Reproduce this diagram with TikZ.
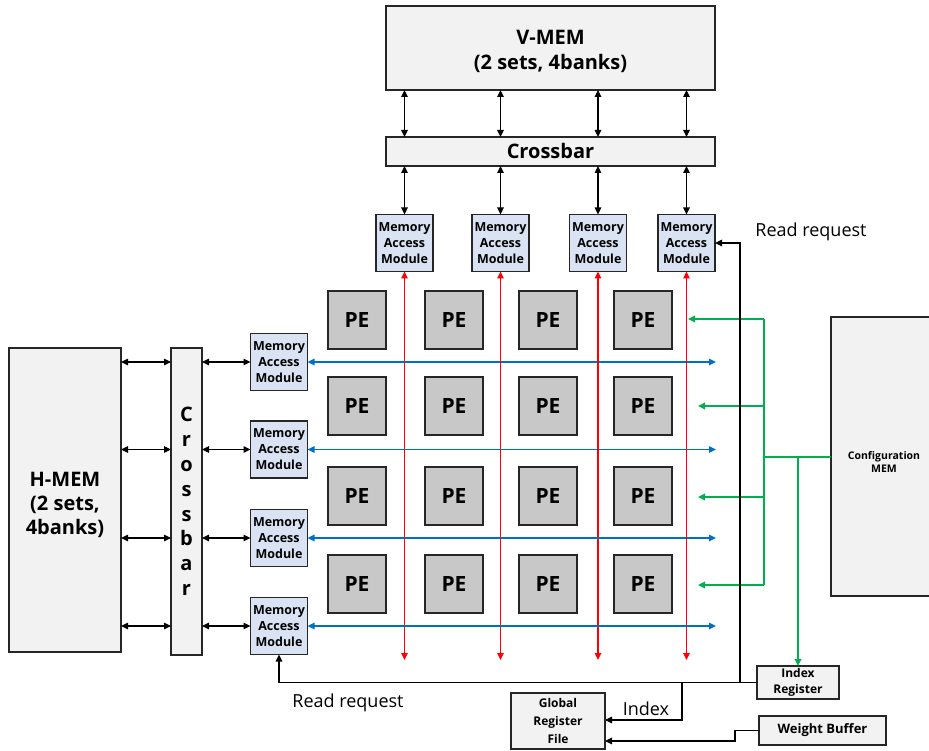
\documentclass[tikz,border=0pt]{standalone}
\usepackage{fontspec}
\setmainfont{Open Sans}
\usetikzlibrary{arrows.meta,calc}
\definecolor{boxgray}{HTML}{F2F2F2}
\definecolor{pegray}{HTML}{C8C8C8}
\definecolor{mamblue}{HTML}{DAE3F3}
\definecolor{linkred}{HTML}{FF0000}
\definecolor{linkblue}{HTML}{0070C0}
\definecolor{linkgreen}{HTML}{00B050}
\tikzset{
  tip/.tip={Triangle[length=7pt,width=6.5pt]},
  blk/.style={draw=black!85,line width=1.2pt,inner sep=0pt,outer sep=0pt},
  membox/.style={blk,fill=boxgray},
  boxtext/.style={inner sep=0pt,align=center},
  pebox/.style={blk,fill=pegray,minimum width=58pt,minimum height=58pt,font=\bfseries\fontsize{21}{24}\selectfont},
  mambox/.style={blk,fill=mamblue,minimum width=57pt,minimum height=57pt,align=center,
    font=\bfseries\fontsize{12.5}{16}\selectfont},
  dbl/.style={black,line width=1.2pt,{tip}-{tip}},
  redlink/.style={linkred,line width=1.5pt,{tip}-{tip}},
  bluelink/.style={linkblue,line width=1.3pt,{tip}-{tip}},
  greenline/.style={linkgreen,line width=1.8pt},
  greenarrow/.style={greenline,-{tip}},
  reqline/.style={black,line width=1.2pt},
  reqarrow/.style={reqline,-{tip}},
  caption/.style={inner sep=0pt,font=\fontsize{18}{20}\selectfont}
}
\begin{document}
\begin{tikzpicture}[x=1pt,y=-1pt]
\useasboundingbox (0,0) rectangle (929,751);

% vertical memory and its crossbar
\node[membox,minimum width=329pt,minimum height=84pt] (vmem) at (550.5,48) {};
\node[boxtext,font=\bfseries\fontsize{20}{25}\selectfont] (vmemText) at ($(vmem.center)+(0,3)$) {V-MEM\\(2 sets, 4banks)};
\node[membox,minimum width=329pt,minimum height=29pt,
  font=\bfseries\fontsize{20}{22}\selectfont] (xbarT) at (550.5,151.5) {Crossbar};

% column memory access modules
\foreach \i/\x in {1/404.5,2/500.5,3/598,4/686.5}{
  \node[mambox] (mamT\i) at (\x,243) {Memory\\Access\\Module};
  \draw[dbl] (vmem.south -| mamT\i) -- (xbarT.north -| mamT\i);
  \draw[dbl] (xbarT.south -| mamT\i) -- (mamT\i.north);
  \coordinate (redEnd\i) at (\x,660);
}

% processing element array
\foreach \c/\x in {1/357,2/454,3/548,4/643}{
  \foreach \r/\y in {1/320,2/406,3/496,4/584}{
    \node[pebox] (pe\r\c) at (\x,\y) {PE};
  }
}

% horizontal memory and its crossbar
\node[membox,minimum width=112pt,minimum height=304pt] (hmem) at (65,500) {};
\node[boxtext,font=\bfseries\fontsize{20}{24}\selectfont] (hmemText) at ($(hmem.center)+(0,5)$) {H-MEM\\(2 sets,\\4banks)};
\node[membox,minimum width=31pt,minimum height=307pt,align=center,
  font=\bfseries\fontsize{20}{24.8}\selectfont] (xbarL) at (186.5,501.5) {C\\r\\o\\s\\s\\b\\a\\r};

% row memory access modules
\foreach \i/\y in {1/362,2/449.5,3/538,4/626}{
  \node[mambox] (mamL\i) at (279,\y) {Memory\\Access\\Module};
  \draw[dbl] (hmem.east |- mamL\i) -- (xbarL.west |- mamL\i);
  \draw[dbl] (xbarL.east |- mamL\i) -- (mamL\i.west);
  \coordinate (blueEnd\i) at (716,\y);
}

% data links through the array
\foreach \i in {1,...,4}{
  \draw[redlink] (mamT\i.south) -- (redEnd\i);
  \draw[bluelink] (mamL\i.east) -- (blueEnd\i);
}

% configuration memory
\node[membox,minimum width=106pt,minimum height=279pt] (cfg) at (884,456.5) {};
\node[boxtext,font=\bfseries\fontsize{10.5}{13}\selectfont] (cfgText) at ($(cfg.center)+(0,5)$) {Configuration\\MEM};

% index register, global register file, weight buffer
\node[membox,minimum width=82pt,minimum height=33pt,align=center,
  font=\bfseries\fontsize{12}{16}\selectfont] (idx) at (798,682.5) {Index\\Register};
\node[membox,minimum width=94pt,minimum height=56pt,align=center,
  font=\bfseries\fontsize{12}{18}\selectfont] (grf) at (558,721) {Global\\Register\\File};
\node[membox,minimum width=127pt,minimum height=29pt,
  font=\bfseries\fontsize{13}{15}\selectfont] (wb) at (822.5,730.5) {Weight Buffer};

% configuration distribution
\coordinate (gJoin) at (764,457);
\coordinate (gTop) at (764,319);
\coordinate (gBot) at (764,585);
\coordinate (gIdx) at (798,457);
\draw[greenline] (cfg.west |- gJoin) -- (gJoin);
\draw[greenline] (gTop) -- (gBot);
\draw[greenarrow] (gTop) -- (688,319);
\draw[greenarrow] (764,406) -- (698,406);
\draw[greenarrow] (764,497) -- (698,497);
\draw[greenarrow] (gBot) -- (698,585);
\draw[greenarrow] (gIdx) -- (idx.north);

% read requests and index path
\coordinate (reqUp) at (740,683);
\coordinate (idxTap) at (682,683);
\coordinate (grfIdx) at (grf.east |- 0,720);
\coordinate (grfWb) at (grf.east |- 0,741);
\draw[reqarrow] (idx.west) -- (mamL4.south |- idx.west) -- (mamL4.south);
\draw[reqarrow] (reqUp) |- (mamT4.east);
\draw[reqarrow] (idxTap) |- (grfIdx);
\draw[reqarrow] (wb.west) -- (735,730.5) -- (735,741) -- (grfWb);

% labels
\node[caption] (lblReqTop) at (811,232) {Read request};
\node[caption] (lblReqBot) at (348,703) {Read request};
\node[caption] (lblIdx) at (646,709) {Index};
\end{tikzpicture}
\end{document}
